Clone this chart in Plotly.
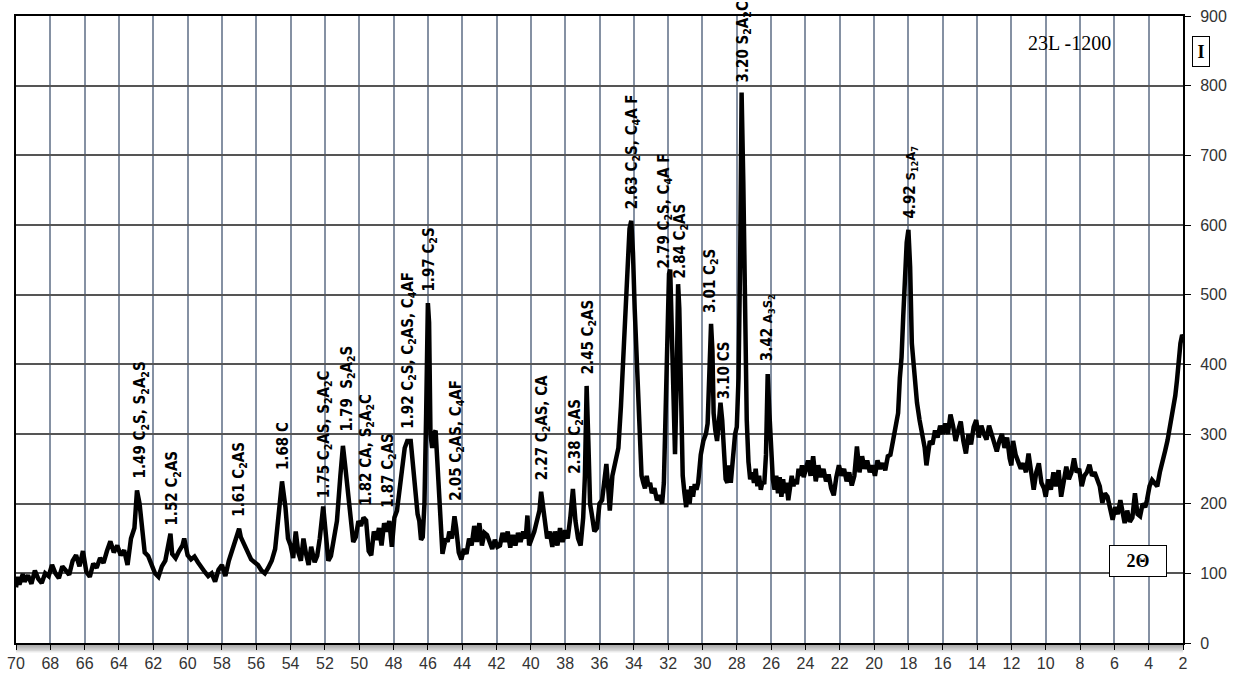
import plotly.graph_objects as go

# ---------------- data ----------------
two_theta = [
    70.0, 69.9, 69.8, 69.6, 69.5, 69.3, 69.1, 68.9, 68.7, 68.5,
    68.3, 68.1, 67.9, 67.7, 67.5, 67.3, 67.1, 66.9, 66.7, 66.5,
    66.3, 66.1, 65.9, 65.7, 65.5, 65.3, 65.1, 64.9, 64.7, 64.5,
    64.3, 64.1, 63.9, 63.7, 63.5, 63.3, 63.1, 62.95, 62.8, 62.65,
    62.5, 62.3, 62.1, 61.9, 61.7, 61.5, 61.3, 61.1, 61.0, 60.9,
    60.7, 60.5, 60.3, 60.2, 60.0, 59.8, 59.6, 59.4, 59.2, 59.0,
    58.8, 58.6, 58.4, 58.2, 58.0, 57.8, 57.6, 57.4, 57.2, 57.0,
    56.9, 56.7, 56.5, 56.3, 56.1, 55.9, 55.7, 55.5, 55.3, 55.1,
    54.9, 54.7, 54.5, 54.3, 54.15, 54.0, 53.85, 53.7, 53.55, 53.4,
    53.25, 53.1, 52.95, 52.8, 52.6, 52.45, 52.3, 52.1, 51.95, 51.8,
    51.65, 51.5, 51.3, 51.1, 50.95, 50.8, 50.65, 50.5, 50.35, 50.2,
    50.05, 49.9, 49.75, 49.6, 49.45, 49.3, 49.15, 49.0, 48.85, 48.7,
    48.55, 48.4, 48.25, 48.1, 47.95, 47.8, 47.65, 47.5, 47.35, 47.2,
    47.0, 46.85, 46.7, 46.6, 46.5, 46.4, 46.3, 46.2, 46.1, 46.0,
    45.93, 45.85, 45.75, 45.65, 45.55, 45.45, 45.35, 45.25, 45.15, 45.05,
    44.95, 44.85, 44.75, 44.6, 44.45, 44.35, 44.2, 44.05, 43.9, 43.75,
    43.6, 43.45, 43.3, 43.15, 43.0, 42.85, 42.7, 42.55, 42.4, 42.25,
    42.1, 41.95, 41.8, 41.65, 41.5, 41.35, 41.2, 41.05, 40.9, 40.75,
    40.6, 40.45, 40.3, 40.2, 40.1, 39.95, 39.8, 39.65, 39.5, 39.4,
    39.3, 39.2, 39.05, 38.9, 38.75, 38.6, 38.45, 38.3, 38.15, 38.0,
    37.85, 37.7, 37.55, 37.4, 37.25, 37.1, 36.95, 36.85, 36.75, 36.65,
    36.55, 36.45, 36.3, 36.15, 36.0, 35.85, 35.7, 35.6, 35.5, 35.4,
    35.25, 35.1, 35.0, 34.9, 34.75, 34.6, 34.45, 34.35, 34.25, 34.15,
    34.05, 33.95, 33.85, 33.75, 33.65, 33.55, 33.45, 33.35, 33.25, 33.15,
    33.05, 32.95, 32.8, 32.65, 32.5, 32.35, 32.25, 32.15, 32.05, 31.95,
    31.88, 31.78, 31.68, 31.6, 31.5, 31.42, 31.35, 31.25, 31.15, 31.05,
    30.95, 30.85, 30.75, 30.65, 30.55, 30.45, 30.35, 30.25, 30.1, 29.95,
    29.8, 29.7, 29.6, 29.5, 29.42, 29.35, 29.25, 29.15, 29.05, 28.95,
    28.85, 28.75, 28.65, 28.55, 28.45, 28.35, 28.2, 28.1, 28.0, 27.9,
    27.8, 27.72, 27.62, 27.52, 27.42, 27.32, 27.22, 27.1, 27.0, 26.9,
    26.8, 26.7, 26.6, 26.5, 26.4, 26.3, 26.2, 26.1, 26.0, 25.9,
    25.8, 25.7, 25.6, 25.5, 25.4, 25.3, 25.2, 25.1, 25.0, 24.9,
    24.8, 24.7, 24.6, 24.5, 24.4, 24.3, 24.2, 24.1, 24.0, 23.85,
    23.7, 23.55, 23.4, 23.25, 23.1, 22.95, 22.8, 22.65, 22.5, 22.35,
    22.2, 22.05, 21.9, 21.75, 21.6, 21.45, 21.3, 21.15, 21.0, 20.85,
    20.7, 20.55, 20.4, 20.25, 20.1, 19.95, 19.8, 19.65, 19.5, 19.35,
    19.2, 19.05, 18.9, 18.75, 18.6, 18.5, 18.4, 18.3, 18.2, 18.1,
    18.0, 17.9, 17.8, 17.65, 17.5, 17.35, 17.2, 17.05, 16.95, 16.85,
    16.75, 16.6, 16.45, 16.3, 16.15, 16.0, 15.85, 15.7, 15.55, 15.4,
    15.25, 15.1, 14.95, 14.8, 14.65, 14.5, 14.35, 14.2, 14.05, 13.9,
    13.75, 13.6, 13.45, 13.3, 13.15, 13.0, 12.85, 12.7, 12.55, 12.4,
    12.25, 12.1, 12.0, 11.9, 11.75, 11.6, 11.45, 11.3, 11.15, 11.0,
    10.85, 10.7, 10.55, 10.4, 10.25, 10.1, 10.0, 9.85, 9.7, 9.55,
    9.4, 9.25, 9.1, 8.95, 8.8, 8.65, 8.5, 8.35, 8.2, 8.05,
    7.9, 7.75, 7.6, 7.45, 7.3, 7.15, 7.0, 6.85, 6.7, 6.55,
    6.4, 6.25, 6.1, 5.95, 5.8, 5.65, 5.5, 5.4, 5.25, 5.1,
    4.95, 4.8, 4.65, 4.5, 4.35, 4.2, 4.1, 3.95, 3.8, 3.65,
    3.5, 3.35, 3.2, 3.05, 2.9, 2.75, 2.6, 2.45, 2.35, 2.25,
    2.15, 2.05, 2.0,
]

intensity = [
    80, 95, 84, 99, 88, 97, 85, 104, 92, 86,
    100, 96, 112, 100, 93, 110, 104, 98, 118, 126,
    110, 132, 102, 95, 114, 108, 122, 115, 132, 146,
    130, 140, 126, 133, 112, 150, 165, 219, 200, 158,
    130, 125, 112, 100, 95, 110, 118, 145, 157, 128,
    122, 132, 140, 150, 126, 120, 124, 116, 108, 102,
    96, 100, 88, 105, 112, 96, 118, 132, 148, 164,
    152, 140, 128, 120, 116, 112, 104, 100, 108, 118,
    135, 190, 232, 195, 150, 140, 122, 160, 130, 118,
    150, 128, 112, 138, 116, 125, 150, 196, 150, 118,
    125, 150, 175, 240, 283, 250, 215, 180, 145, 152,
    175, 168, 180, 176, 132, 126, 160, 148, 165, 140,
    172, 160, 175, 138, 180, 190, 215, 250, 280, 290,
    290, 250, 215, 185, 175, 148, 152, 200, 330, 488,
    460, 300, 280, 300, 305, 260, 190, 150, 128, 140,
    150, 145, 160, 150, 182, 165, 130, 120, 135, 128,
    150, 140, 168, 145, 172, 140, 158, 155, 145, 135,
    148, 138, 140, 158, 145, 160, 137, 155, 140, 158,
    145, 160, 150, 183, 140, 150, 160, 175, 190, 217,
    195, 170, 150, 160, 138, 160, 140, 165, 145, 162,
    150, 180, 221, 175, 150, 140, 180, 240, 369, 290,
    200, 185, 160, 165, 200, 205, 240, 257, 225, 190,
    240, 257, 268, 280, 340, 420, 480, 560, 595, 606,
    560, 480, 420, 330, 270, 240, 230, 222, 240, 225,
    230, 215, 222, 205, 212, 200, 230, 330, 480, 530,
    536, 440, 330, 271, 380, 515, 480, 340, 240, 215,
    195, 220, 200, 225, 210, 228, 220, 230, 270, 290,
    300, 315, 380, 458, 420, 330, 305, 290, 315, 345,
    320, 265, 235, 230, 255, 230, 280, 300, 310, 380,
    560, 790, 660, 420, 320, 260, 235, 245, 230, 250,
    225, 240, 220, 232, 228, 270, 386, 330, 270, 235,
    220, 240, 215, 238, 210, 235, 215, 230, 205, 222,
    240, 225, 235, 228, 250, 240, 255, 238, 250, 262,
    240, 268, 232, 255, 238, 250, 232, 242, 222, 212,
    238, 255, 240, 250, 232, 245, 226, 240, 282, 245,
    268, 250, 262, 245, 255, 240, 262, 250, 258, 248,
    268, 270, 290, 310, 330, 380, 410, 470, 536, 575,
    593, 540, 430, 380, 345, 320, 300, 280, 255, 275,
    290, 285, 305, 295, 312, 300, 315, 300, 328, 312,
    290, 305, 318, 290, 272, 300, 285, 310, 320, 295,
    312, 300, 292, 312, 300, 285, 275, 290, 300, 280,
    295, 265, 255, 290, 270, 260, 250, 258, 245, 272,
    240, 220, 245, 258, 230, 222, 210, 235, 220, 245,
    225, 248, 210, 235, 253, 235, 245, 265, 245, 250,
    225, 240, 245, 256, 240, 245, 234, 225, 201, 215,
    210, 195, 177, 195, 185, 205, 180, 172, 190, 174,
    180, 215, 185, 182, 200, 195, 205, 225, 234, 230,
    225, 245, 258, 275, 291, 310, 330, 355, 377, 410,
    430, 442, 440,
]

assert len(two_theta) == len(intensity), (len(two_theta), len(intensity))

# peak annotations: 2-theta position, intensity where the text starts, text
label_pos = [62.72, 60.85, 56.95, 54.4, 52.05, 50.7, 49.55, 48.3, 47.1, 45.9,
             44.35, 39.35, 37.4, 36.67, 34.1, 32.2, 31.3, 29.5, 28.74, 27.6,
             26.2, 17.85]
label_base = [234, 165, 179, 245, 205, 301, 194, 191, 304, 501,
              201, 230, 240, 382, 619, 535, 520, 471, 347, 802,
              402, 607]
label_d = ["1.49", "1.52", "1.61", "1.68", "1.75", "1.79 ", "1.82", "1.87", "1.92", "1.97",
           "2.05", "2.27", "2.38", "2.45", "2.63", "2.79", "2.84", "3.01", "3.10", "3.20",
           "3.42", "4.92"]
label_phase = [
    "C<sub>2</sub>S, S<sub>2</sub>A<sub>2</sub>S",
    "C<sub>2</sub>AS",
    "C<sub>2</sub>AS",
    "C",
    "C<sub>2</sub>AS, S<sub>2</sub>A<sub>2</sub>C",
    "S<sub>2</sub>A<sub>2</sub>S",
    "CA, S<sub>2</sub>A<sub>2</sub>C",
    "C<sub>2</sub>AS",
    "C<sub>2</sub>S, C<sub>2</sub>AS, C<sub>4</sub>AF",
    "C<sub>2</sub>S",
    "C<sub>2</sub>AS, C<sub>4</sub>AF",
    "C<sub>2</sub>AS, CA",
    "C<sub>2</sub>AS",
    "C<sub>2</sub>AS",
    "C<sub>2</sub>S, C<sub>4</sub>A F",
    "C<sub>2</sub>S, C<sub>4</sub>A F",
    "C<sub>2</sub>AS",
    "C<sub>2</sub>S",
    "CS",
    "S<sub>2</sub>A<sub>2</sub>C",
    "A<sub>3</sub>S<sub>2</sub>",
    "S<sub>12</sub>A<sub>7</sub>",
]
small_phase = {"3.42", "4.92"}

x_ticks = list(range(70, 1, -2))
y_ticks = list(range(0, 901, 100))

# ---------------- figure ----------------
fig = go.Figure()
fig.add_trace(go.Scatter(
    x=two_theta, y=intensity, mode="lines",
    line=dict(color="black", width=4.5), showlegend=False, hoverinfo="skip",
))

label_font = "DejaVu Sans Condensed, Liberation Sans Narrow, Arial Narrow, Liberation Sans, sans-serif"
for xp, yb, d, ph in zip(label_pos, label_base, label_d, label_phase):
    if d in small_phase:
        txt = "<b>%s <span style='font-size:13px'>%s</span></b>" % (d, ph)
    else:
        txt = "<b>%s %s</b>" % (d, ph)
    fig.add_annotation(
        x=xp, y=yb, xref="x", yref="y", text=txt, showarrow=False,
        textangle=-90, xanchor="center", yanchor="bottom",
        font=dict(family=label_font, size=15, color="black"),
    )

# sample name
fig.add_annotation(
    x=0.903, y=0.957, xref="paper", yref="paper", text="23L -1200",
    showarrow=False, xanchor="center", yanchor="middle",
    font=dict(family="Liberation Serif, Times New Roman, serif", size=20, color="black"),
)
# axis caption boxes
fig.add_annotation(
    x=(1201 - 16) / 1167, y=(643 - 51.5) / 627, xref="paper", yref="paper",
    text="<b>I</b>", showarrow=False, xanchor="center", yanchor="middle",
    width=14, height=27, bordercolor="black", borderwidth=1, borderpad=1,
    bgcolor="white",
    font=dict(family="Liberation Serif, Times New Roman, serif", size=18, color="black"),
)
fig.add_annotation(
    x=(1138 - 16) / 1167, y=(643 - 561) / 627, xref="paper", yref="paper",
    text="<b>2Θ</b>", showarrow=False, xanchor="center", yanchor="middle",
    width=54, height=28, bordercolor="black", borderwidth=1, borderpad=1,
    bgcolor="white",
    font=dict(family="Liberation Serif, Times New Roman, serif", size=18, color="black"),
)

# soft shadow below the x axis
for k in range(6):
    fig.add_shape(
        type="rect", xref="paper", yref="paper",
        x0=0, x1=1.0, y0=-(k + 1) * 1.6 / 627, y1=0,
        fillcolor="rgba(90,90,90,0.13)", line=dict(width=0), layer="below",
    )

fig.update_layout(
    width=1239, height=673,
    margin=dict(l=16, r=56, t=16, b=30, autoexpand=False),
    paper_bgcolor="white", plot_bgcolor="white",
    showlegend=False,
    xaxis=dict(
        range=[70, 2], autorange=False, automargin=False,
        tickmode="array", tickvals=x_ticks, ticktext=[str(v) for v in x_ticks],
        showgrid=True, gridcolor="#8591a3", gridwidth=2,
        showline=True, linecolor="black", linewidth=2, mirror=True,
        ticks="outside", ticklen=5, tickcolor="black",
        tickfont=dict(family="Liberation Sans, Arial, sans-serif", size=16, color="#333333"),
        zeroline=False,
    ),
    yaxis=dict(
        range=[0, 900], autorange=False, side="right", automargin=False,
        tickmode="array", tickvals=y_ticks, ticktext=[str(v) for v in y_ticks],
        showgrid=True, gridcolor="#555555", gridwidth=1.5,
        showline=True, linecolor="black", linewidth=2, mirror=True,
        ticks="outside", ticklen=6, tickcolor="black",
        ticklabelstandoff=6,
        tickfont=dict(family="Liberation Sans, Arial, sans-serif", size=16, color="#333333"),
        zeroline=False,
    ),
)

fig.write_html(
    "out.html",
    config={"displayModeBar": False},
    post_script="document.body.style.margin='0';document.body.style.overflow='hidden';",
)
